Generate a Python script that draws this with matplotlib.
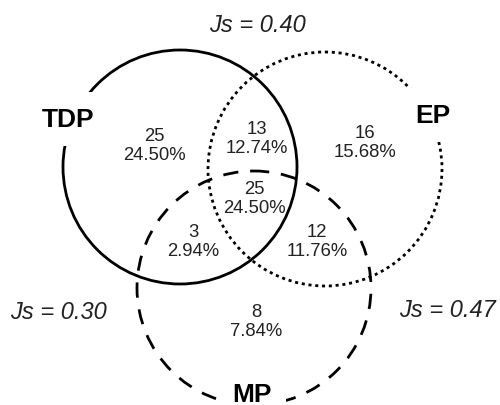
import matplotlib.pyplot as plt
from matplotlib.patches import Circle

plt.rcParams['font.family'] = ['Liberation Sans', 'DejaVu Sans']
plt.rcParams['lines.scale_dashes'] = False

# set names and region counts
sets = ["TDP", "EP", "MP"]
regions = ["TDP", "TDP&EP", "EP", "ALL", "TDP&MP", "EP&MP", "MP"]
counts = [25, 13, 16, 25, 3, 12, 8]
percents = ["24.50%", "12.74%", "15.68%", "24.50%", "2.94%", "11.76%", "7.84%"]
# Jaccard similarity per pair
pairs = ["TDP-EP", "TDP-MP", "EP-MP"]
js = [0.40, 0.30, 0.47]

# layout (pixels, y down)
centers = {"TDP": (180, 168), "EP": (325, 170), "MP": (254, 289)}
radius = 117
styles = {"TDP": "-", "EP": (0, (2.2, 2.7)), "MP": (0, (11, 8.5))}
set_lbl_pos = {"TDP": (68, 120), "EP": (433, 116), "MP": (252, 395)}
reg_pos = {"TDP": (154, 146), "TDP&EP": (257, 139), "EP": (365, 143),
           "ALL": (254, 199), "TDP&MP": (193, 242), "EP&MP": (317, 242),
           "MP": (256, 322)}
js_pos = {"TDP-EP": (257, 25), "TDP-MP": (58, 313), "EP-MP": (447, 311)}

fig = plt.figure(figsize=(5, 4.06), dpi=100)
ax = fig.add_axes([0, 0, 1, 1])
ax.set_xlim(0, 500)
ax.set_ylim(406, 0)
ax.set_aspect('equal')
ax.axis('off')

for s in sets:
    ax.add_patch(Circle(centers[s], radius, fill=False, lw=2.0,
                        linestyle=styles[s], color='black', zorder=1))
    ax.text(*set_lbl_pos[s], s, fontsize=19, fontweight='bold',
            ha='center', va='center', zorder=3,
            bbox=dict(boxstyle='square,pad=0.55', fc='white', ec='none'))

for r, c, p in zip(regions, counts, percents):
    ax.text(*reg_pos[r], f"{c}\n{p}", fontsize=13.3, color='#222222',
            ha='center', va='center', linespacing=1.15, zorder=2)

for pr, v in zip(pairs, js):
    ax.text(*js_pos[pr], f"Js = {v:.2f}", fontsize=17, style='italic',
            color='#222222', ha='center', va='center')

fig.savefig("out.png", dpi=100)
